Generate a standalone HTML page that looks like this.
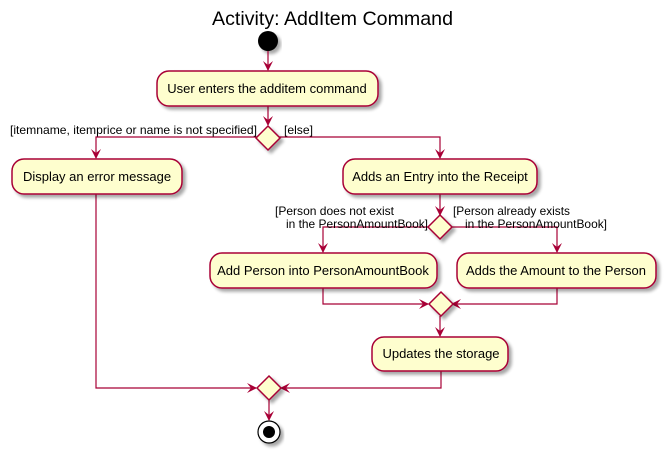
<!DOCTYPE html>
<html><head><meta charset="utf-8"><style>
html,body{margin:0;padding:0;background:#fff;}
svg{display:block;}
text{font-family:"Liberation Sans",sans-serif;fill:#000;}
</style></head><body>
<svg width="667" height="452" viewBox="0 0 667 452" xmlns="http://www.w3.org/2000/svg">
<defs>
<filter id="sh" x="-20%" y="-20%" width="140%" height="160%"><feGaussianBlur in="SourceAlpha" stdDeviation="1.5"/><feOffset dx="3" dy="3"/><feComponentTransfer><feFuncA type="linear" slope="0.35"/></feComponentTransfer><feMerge><feMergeNode/><feMergeNode in="SourceGraphic"/></feMerge></filter>
<marker id="ar" viewBox="0 0 10 10" refX="9" refY="5" markerWidth="10" markerHeight="10" orient="auto" markerUnits="userSpaceOnUse"><path d="M0,0 L10,5 L0,10 L4,5 Z" fill="#A80036"/></marker>
</defs>
<text x="212" y="25" font-size="19.5" textLength="241" lengthAdjust="spacingAndGlyphs">Activity: AddItem Command</text>
<circle cx="268" cy="41" r="10" fill="#000" filter="url(#sh)"/>
<g fill="none" stroke="#A80036" stroke-width="1.2">
<line x1="268" y1="51" x2="268" y2="70" marker-end="url(#ar)"/>
<line x1="268" y1="106" x2="268" y2="125" marker-end="url(#ar)"/>
<polyline points="257,137 96,137 96,158" marker-end="url(#ar)"/>
<polyline points="279,137 440,137 440,158" marker-end="url(#ar)"/>
<line x1="440" y1="194" x2="440" y2="215" marker-end="url(#ar)"/>
<polyline points="429,227 323,227 323,252" marker-end="url(#ar)"/>
<polyline points="451,227 557,227 557,252" marker-end="url(#ar)"/>
<polyline points="323,288 323,304 428,304" marker-end="url(#ar)"/>
<polyline points="557,288 557,304 452,304" marker-end="url(#ar)"/>
<line x1="440" y1="316" x2="440" y2="336" marker-end="url(#ar)"/>
<polyline points="96,194 96,388 256,388" marker-end="url(#ar)"/>
<polyline points="441,370 441,388 281,388" marker-end="url(#ar)"/>
<line x1="269" y1="400" x2="269" y2="420" marker-end="url(#ar)"/>
</g>
<g fill="#FEFECE" stroke="#A80036" stroke-width="1.5" filter="url(#sh)">
<rect x="157" y="71" width="221" height="35" rx="12"/>
<rect x="12" y="159" width="170" height="35" rx="12"/>
<rect x="343" y="159" width="194" height="35" rx="12"/>
<rect x="210" y="253" width="227" height="35" rx="12"/>
<rect x="457" y="253" width="199" height="35" rx="12"/>
<rect x="372" y="337" width="136" height="34" rx="12"/>
<polygon points="268,126 280,138 268,150 256,138"/>
<polygon points="440,215 452,227 440,239 428,227"/>
<polygon points="441,292 453,304 441,316 429,304"/>
<polygon points="269,376 281,388 269,400 257,388"/>
</g>
<circle cx="269" cy="432" r="11" fill="#fff" stroke="#000" stroke-width="1.2" filter="url(#sh)"/>
<circle cx="269" cy="432" r="6" fill="#000"/>
<g font-size="13" text-anchor="middle">
<text x="267" y="93">User enters the additem command</text>
<text x="97" y="181">Display an error message</text>
<text x="440" y="181">Adds an Entry into the Receipt</text>
<text x="323" y="275">Add Person into PersonAmountBook</text>
<text x="556" y="275">Adds the Amount to the Person</text>
<text x="441" y="358">Updates the storage</text>
</g>
<g font-size="12">
<text x="10" y="134" textLength="247" lengthAdjust="spacingAndGlyphs">[itemname, itemprice or name is not specified]</text>
<text x="284" y="134" textLength="29" lengthAdjust="spacingAndGlyphs">[else]</text>
<text x="275" y="215" textLength="119" lengthAdjust="spacingAndGlyphs">[Person does not exist</text>
<text x="286" y="228" textLength="142" lengthAdjust="spacingAndGlyphs">in the PersonAmountBook]</text>
<text x="453" y="215" textLength="117" lengthAdjust="spacingAndGlyphs">[Person already exists</text>
<text x="465" y="228" textLength="142" lengthAdjust="spacingAndGlyphs">in the PersonAmountBook]</text>
</g>
</svg>
</body></html>
